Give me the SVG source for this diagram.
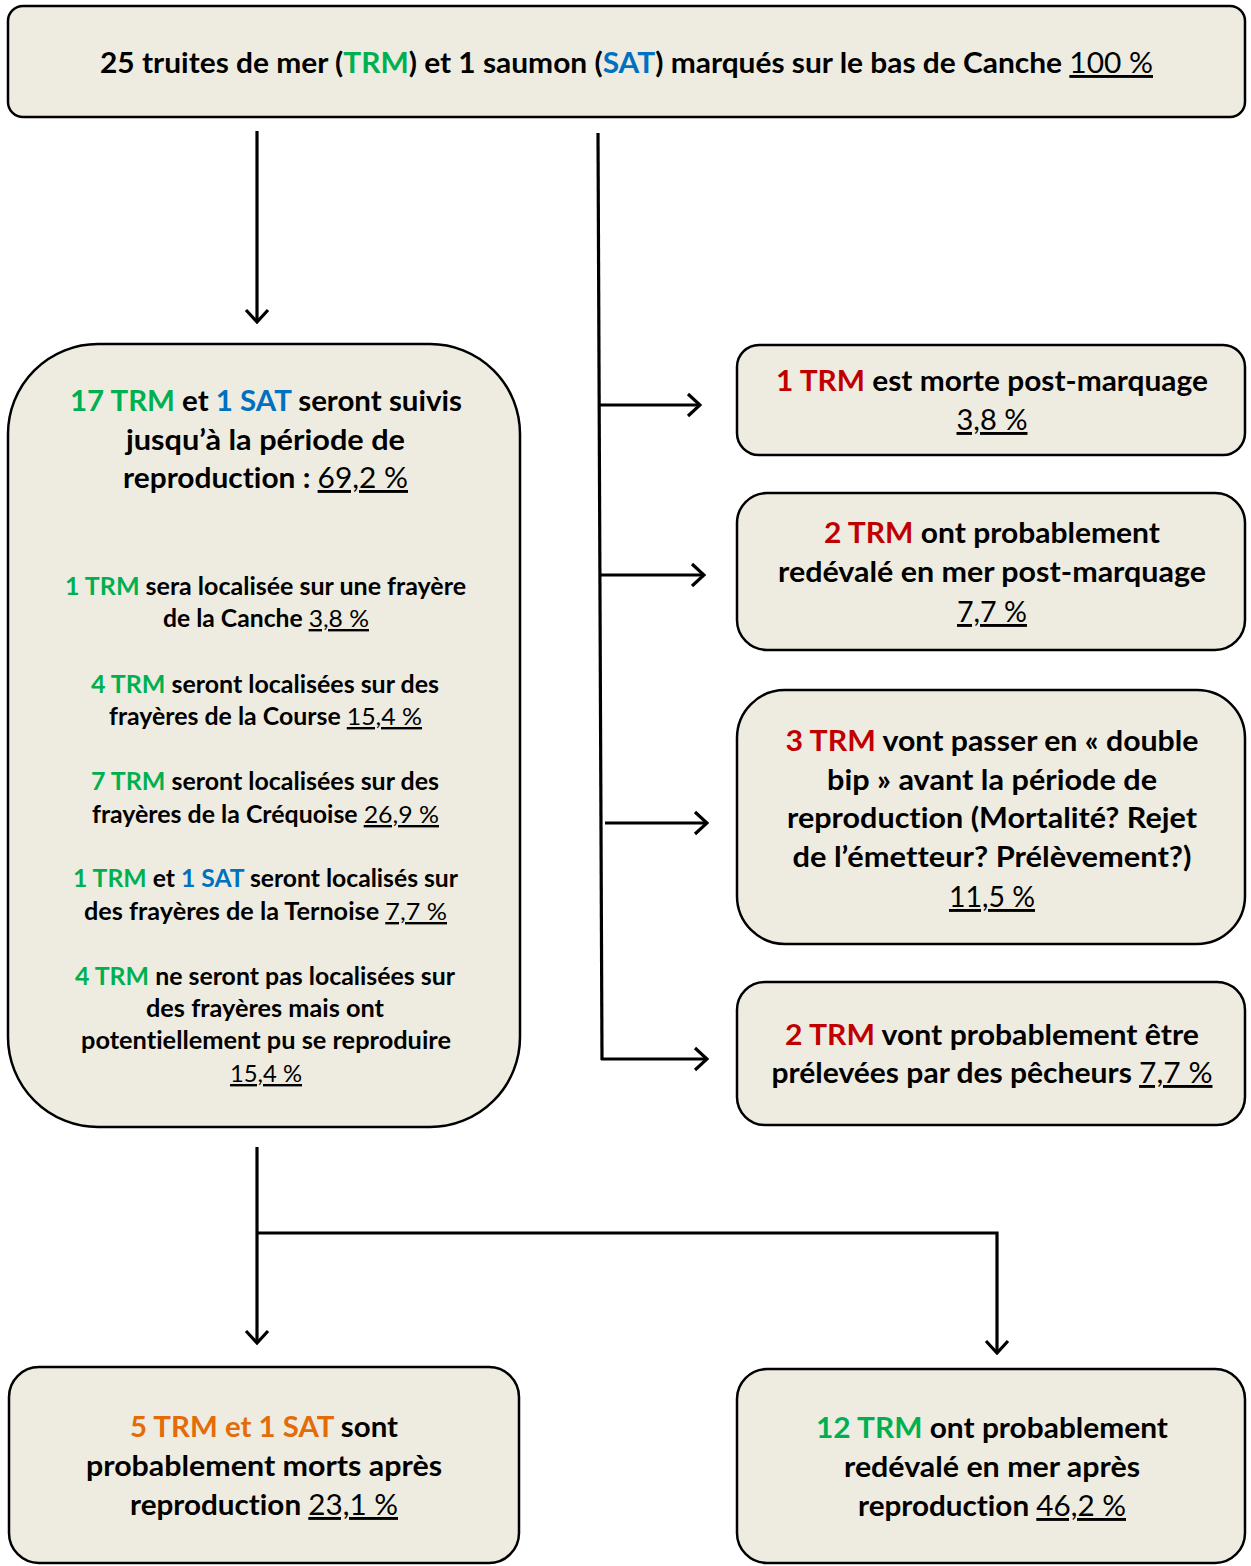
<svg xmlns="http://www.w3.org/2000/svg" width="1251" height="1566" viewBox="0 0 1251 1566">
<style>
.box{fill:#EEECE1;stroke:#000;stroke-width:2.5}
text{font-family:Lato,"Open Sans","Liberation Sans",sans-serif;font-weight:bold;fill:#000;text-anchor:middle;font-variant-ligatures:none}
.h{font-size:29px}
.s{font-size:24px}
.g{fill:#00B050}
.b{fill:#0070C0}
.r{fill:#C00000}
.o{fill:#E36C09}
.p{font-weight:normal;text-decoration:underline;text-decoration-skip-ink:none}
.c{fill:none;stroke:#000;stroke-width:3.2}
</style>
<defs>
<marker id="arr" viewBox="-14 -13 16 26" refX="0" refY="0" markerWidth="16" markerHeight="26" orient="auto" markerUnits="userSpaceOnUse">
<path d="M-12,-11 L0,0 L-12,11" fill="none" stroke="#000" stroke-width="3.2"/>
</marker>
</defs>

<g id="connectors">
<line class="c" x1="257" y1="131" x2="257" y2="322" marker-end="url(#arr)"/>
<line class="c" x1="598" y1="133" x2="602" y2="1060"/>
<line class="c" x1="599" y1="405" x2="700" y2="405" marker-end="url(#arr)"/>
<line class="c" x1="600" y1="575" x2="704" y2="575" marker-end="url(#arr)"/>
<line class="c" x1="605" y1="823" x2="707" y2="823" marker-end="url(#arr)"/>
<line class="c" x1="601" y1="1059" x2="707" y2="1059" marker-end="url(#arr)"/>
<line class="c" x1="257" y1="1147" x2="257" y2="1343" marker-end="url(#arr)"/>
<path class="c" d="M257,1233 H997 V1353" stroke-width="3.6" marker-end="url(#arr)"/>
</g>

<g id="top">
<rect class="box" x="8" y="6" width="1237" height="111" rx="15"/>
<text class="h" x="626.5" y="73" textLength="1053" lengthAdjust="spacingAndGlyphs">25 truites de mer (<tspan class="g">TRM</tspan>) et 1 saumon (<tspan class="b">SAT</tspan>) marqués sur le bas de Canche <tspan class="p">100 %</tspan></text>
</g>

<g id="suivis">
<rect class="box" x="8" y="344" width="512" height="783" rx="90"/>
<text class="h" x="266" y="411" textLength="392" lengthAdjust="spacingAndGlyphs"><tspan class="g">17 TRM</tspan> et <tspan class="b">1 SAT</tspan> seront suivis</text>
<text class="h" x="265.5" y="450" textLength="279" lengthAdjust="spacingAndGlyphs">jusqu’à la période de</text>
<text class="h" x="265.5" y="488" textLength="285" lengthAdjust="spacingAndGlyphs">reproduction : <tspan class="p">69,2 %</tspan></text>
<text class="s" x="265.5" y="595" textLength="401" lengthAdjust="spacingAndGlyphs"><tspan class="g">1 TRM</tspan> sera localisée sur une frayère</text>
<text class="s" x="266" y="627" textLength="206" lengthAdjust="spacingAndGlyphs">de la Canche <tspan class="p">3,8 %</tspan></text>
<text class="s" x="265" y="693" textLength="348" lengthAdjust="spacingAndGlyphs"><tspan class="g">4 TRM</tspan> seront localisées sur des</text>
<text class="s" x="265.5" y="725" textLength="313" lengthAdjust="spacingAndGlyphs">frayères de la Course <tspan class="p">15,4 %</tspan></text>
<text class="s" x="265" y="790" textLength="348" lengthAdjust="spacingAndGlyphs"><tspan class="g">7 TRM</tspan> seront localisées sur des</text>
<text class="s" x="265.5" y="823" textLength="347" lengthAdjust="spacingAndGlyphs">frayères de la Créquoise <tspan class="p">26,9 %</tspan></text>
<text class="s" x="265.5" y="887" textLength="385" lengthAdjust="spacingAndGlyphs"><tspan class="g">1 TRM</tspan> et <tspan class="b">1 SAT</tspan> seront localisés sur</text>
<text class="s" x="265.5" y="920" textLength="363" lengthAdjust="spacingAndGlyphs">des frayères de la Ternoise <tspan class="p">7,7 %</tspan></text>
<text class="s" x="265" y="985" textLength="380" lengthAdjust="spacingAndGlyphs"><tspan class="g">4 TRM</tspan> ne seront pas localisées sur</text>
<text class="s" x="265" y="1017" textLength="238" lengthAdjust="spacingAndGlyphs">des frayères mais ont</text>
<text class="s" x="266" y="1049" textLength="370" lengthAdjust="spacingAndGlyphs">potentiellement pu se reproduire</text>
<text class="s" x="266" y="1082" textLength="72" lengthAdjust="spacingAndGlyphs"><tspan class="p">15,4 %</tspan></text>
</g>

<g id="morte">
<rect class="box" x="737" y="345" width="508" height="110" rx="22"/>
<text class="h" x="992" y="391" textLength="432" lengthAdjust="spacingAndGlyphs"><tspan class="r">1 TRM</tspan> est morte post-marquage</text>
<text class="h" x="992" y="430" textLength="71" lengthAdjust="spacingAndGlyphs"><tspan class="p">3,8 %</tspan></text>
</g>

<g id="redevale-post">
<rect class="box" x="737" y="493" width="508" height="157" rx="30"/>
<text class="h" x="992" y="543" textLength="336" lengthAdjust="spacingAndGlyphs"><tspan class="r">2 TRM</tspan> ont probablement</text>
<text class="h" x="992" y="582" textLength="428" lengthAdjust="spacingAndGlyphs">redévalé en mer post-marquage</text>
<text class="h" x="992" y="622" textLength="70" lengthAdjust="spacingAndGlyphs"><tspan class="p">7,7 %</tspan></text>
</g>

<g id="double-bip">
<rect class="box" x="737" y="690" width="508" height="254" rx="48"/>
<text class="h" x="992" y="751" textLength="413" lengthAdjust="spacingAndGlyphs"><tspan class="r">3 TRM</tspan> vont passer en « double</text>
<text class="h" x="992" y="790" textLength="330" lengthAdjust="spacingAndGlyphs">bip » avant la période de</text>
<text class="h" x="992" y="828" textLength="410" lengthAdjust="spacingAndGlyphs">reproduction (Mortalité? Rejet</text>
<text class="h" x="992" y="867" textLength="399" lengthAdjust="spacingAndGlyphs">de l’émetteur? Prélèvement?)</text>
<text class="h" x="992" y="907" textLength="86" lengthAdjust="spacingAndGlyphs"><tspan class="p">11,5 %</tspan></text>
</g>

<g id="peche">
<rect class="box" x="737" y="982" width="508" height="143" rx="28"/>
<text class="h" x="992" y="1045" textLength="414" lengthAdjust="spacingAndGlyphs"><tspan class="r">2 TRM</tspan> vont probablement être</text>
<text class="h" x="992" y="1083" textLength="441" lengthAdjust="spacingAndGlyphs">prélevées par des pêcheurs <tspan class="p">7,7 %</tspan></text>
</g>

<g id="morts-apres">
<rect class="box" x="9" y="1367" width="510" height="196" rx="30"/>
<text class="h" x="264" y="1437" textLength="268" lengthAdjust="spacingAndGlyphs"><tspan class="o">5 TRM et 1 SAT</tspan> sont</text>
<text class="h" x="264" y="1476" textLength="356" lengthAdjust="spacingAndGlyphs">probablement morts après</text>
<text class="h" x="264" y="1515" textLength="268" lengthAdjust="spacingAndGlyphs">reproduction <tspan class="p">23,1 %</tspan></text>
</g>

<g id="redevale-apres">
<rect class="box" x="737" y="1369" width="508" height="194" rx="30"/>
<text class="h" x="992" y="1438" textLength="352" lengthAdjust="spacingAndGlyphs"><tspan class="g">12 TRM</tspan> ont probablement</text>
<text class="h" x="992" y="1477" textLength="296" lengthAdjust="spacingAndGlyphs">redévalé en mer après</text>
<text class="h" x="992" y="1516" textLength="268" lengthAdjust="spacingAndGlyphs">reproduction <tspan class="p">46,2 %</tspan></text>
</g>
</svg>
